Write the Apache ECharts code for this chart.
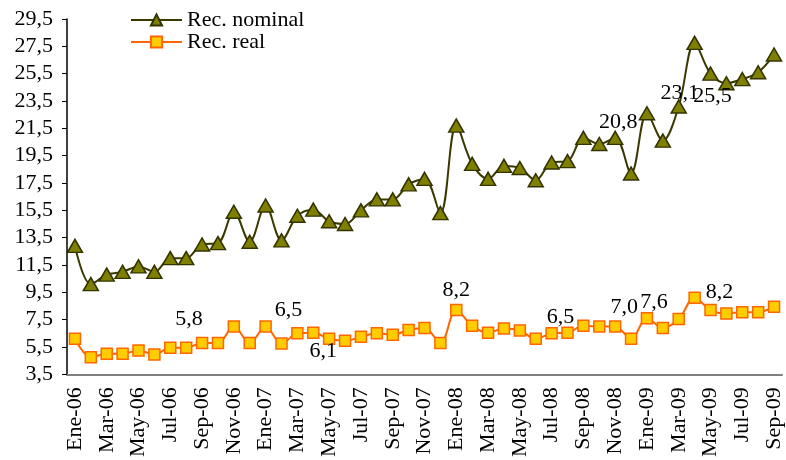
<!DOCTYPE html>
<html>
<head>
<meta charset="utf-8">
<script src="https://cdn.jsdelivr.net/npm/echarts@6/dist/echarts.min.js"></script>
<style>html,body{margin:0;padding:0;background:#fff}#c{width:786px;height:460px}</style>
</head>
<body>
<div id="c"></div>
<script>
const mesesAbrev = ['Ene','Feb','Mar','Abr','May','Jun','Jul','Ago','Sep','Oct','Nov','Dic'];
const years = ['06','07','08','09'];
const categories = [];
years.forEach(y => mesesAbrev.forEach(m => categories.push(m + '-' + y)));
categories.length = 45; // Ene-06 .. Sep-09

const recNominal = [
  12.9, 10.1, 10.8, 11.0, 11.4, 11.0, 12.0, 12.0, 13.0, 13.1, 15.4, 13.2,
  15.85, 13.3, 15.1, 15.55, 14.7, 14.5, 15.5, 16.3, 16.3, 17.4, 17.8, 15.3,
  21.7, 18.9, 17.8, 18.75, 18.6, 17.7, 19.0, 19.1, 20.8, 20.35, 20.8, 18.2,
  22.6, 20.6, 23.1, 27.75, 25.5, 24.8, 25.1, 25.6, 26.9
];
const recReal = [
  6.1, 4.75, 5.0, 5.0, 5.25, 4.95, 5.45, 5.45, 5.8, 5.8, 7.0, 5.8,
  7.0, 5.75, 6.5, 6.55, 6.1, 5.95, 6.25, 6.5, 6.4, 6.75, 6.9, 5.8,
  8.2, 7.05, 6.55, 6.85, 6.7, 6.1, 6.5, 6.55, 7.05, 7.0, 7.0, 6.1,
  7.6, 6.9, 7.55, 9.1, 8.2, 7.95, 8.05, 8.05, 8.45
];
const yTicks = { min: 3.5, max: 29.5, step: 2 };

// labelled points: index -> label offset (style)
const nominalLabels = { 34: [3, -16], 38: [1, -13], 40: [2, 23] };
const realLabels = { 8: [-13, -24], 14: [-9, -23], 16: [-6, 12], 24: [0, -20], 30: [9, -16], 34: [9, -19], 36: [7, -16], 40: [9, -18] };

const fmt = v => v.toFixed(1).replace('.', ',');
const font = 'Liberation Serif, Times New Roman, serif';
const FS = 22;
const labelStyle = { color: '#000', fontFamily: font, fontSize: FS };

function build(vals, labels) {
  return vals.map((v, i) => {
    if (labels[i]) {
      return { value: v, label: Object.assign({ show: true, position: 'inside', offset: labels[i], formatter: p => fmt(p.value) }, labelStyle) };
    }
    return v;
  });
}

const chart = echarts.init(document.getElementById('c'), null, { renderer: 'canvas' });
chart.setOption({
  animation: false,
  backgroundColor: '#fff',
  grid: { left: 67, right: 4, top: 19, bottom: 83 },
  legend: {
    left: 130, top: 9, padding: 0, orient: 'vertical', itemWidth: 51, itemHeight: 14, itemGap: 0,
    textStyle: { fontFamily: font, fontSize: FS, color: '#000', lineHeight: 22 },
    data: ['Rec. nominal', 'Rec. real']
  },
  xAxis: {
    type: 'category', data: categories, boundaryGap: true,
    axisLine: { lineStyle: { color: '#808080', width: 2 } },
    axisTick: { interval: 1, length: 5, lineStyle: { color: '#808080', width: 1 } },
    axisLabel: { interval: 1, rotate: 90, margin: 13, fontFamily: font, fontSize: FS, color: '#000' },
    splitLine: { show: false }
  },
  yAxis: {
    type: 'value', min: yTicks.min, max: yTicks.max, interval: yTicks.step,
    axisLine: { show: true, lineStyle: { color: '#000', width: 1.5 } },
    axisTick: { show: true, length: 5, lineStyle: { color: '#000' } },
    axisLabel: { margin: 14, fontFamily: font, fontSize: FS, color: '#000', formatter: v => fmt(v) },
    splitLine: { show: false }
  },
  series: [
    {
      name: 'Rec. nominal', type: 'line', smooth: 0.35, showAllSymbol: true,
      data: build(recNominal, nominalLabels),
      symbol: 'triangle', symbolSize: [15, 13],
      lineStyle: { color: '#3a3a00', width: 2 },
      itemStyle: { color: '#808000', borderColor: '#333300', borderWidth: 1.5 },
      label: { show: false }
    },
    {
      name: 'Rec. real', type: 'line', smooth: 0.35, showAllSymbol: true,
      data: build(recReal, realLabels),
      symbol: 'rect', symbolSize: 11,
      lineStyle: { color: '#ff6600', width: 2 },
      itemStyle: { color: '#ffcc00', borderColor: '#ff6600', borderWidth: 1.5 },
      label: { show: false }
    }
  ]
});
</script>
</body>
</html>
